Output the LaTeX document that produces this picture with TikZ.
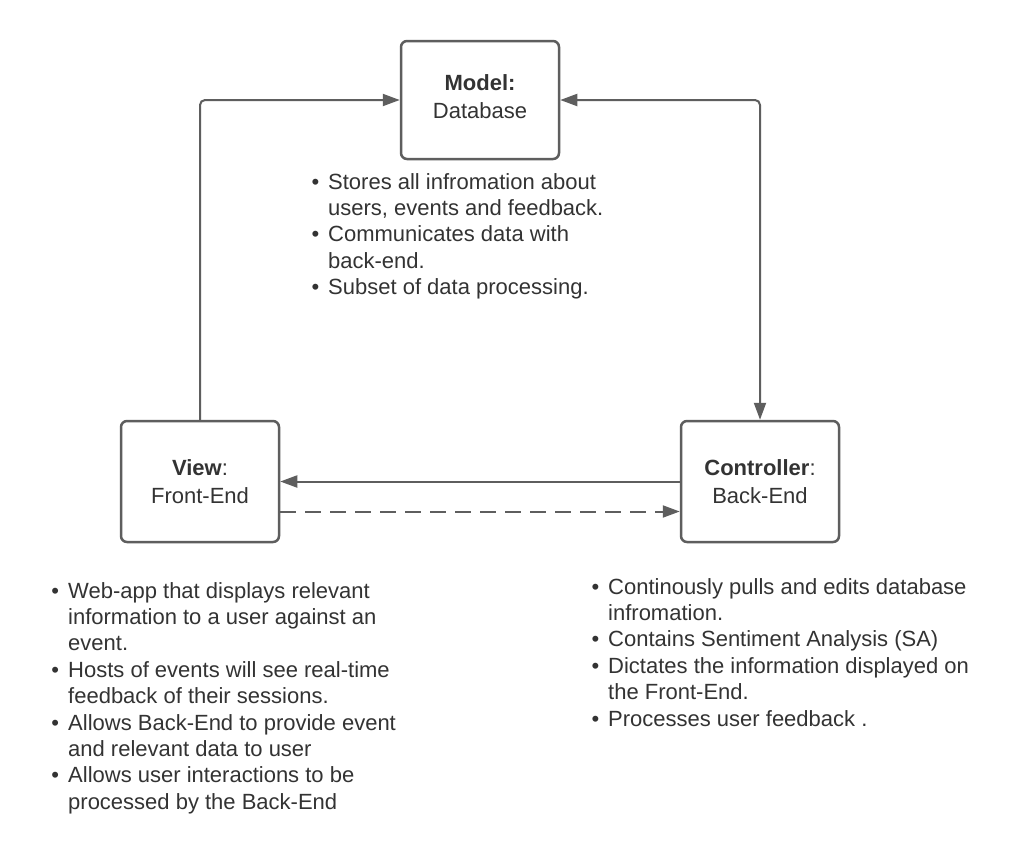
\documentclass[tikz,border=0pt]{standalone}
\usepackage{fontspec}
\setmainfont{Liberation Sans}
\usetikzlibrary{arrows.meta}
\definecolor{edgec}{HTML}{5E5E5E}
\definecolor{inkc}{HTML}{333333}
\newcommand{\bul}{\llap{\textbullet\hspace{9pt}}}
\begin{document}
\begin{tikzpicture}[x=1pt,y=-1pt,
  box/.style={draw=edgec, line width=2.5pt, rounded corners=6pt, minimum width=158pt,
    inner sep=0pt, align=center, text=inkc, font=\fontsize{22}{28}\selectfont},
  conn/.style={draw=edgec, line width=2pt, rounded corners=5pt},
  listtext/.style={text=inkc, align=left, inner sep=0pt, anchor=base west,
    font=\fontsize{22}{26.4}\selectfont},
  tipc/.tip={Triangle[length=17pt,width=12pt]}]
\useasboundingbox[fill=white] (0,0) rectangle (1020,860);

\node[box, minimum height=118pt] (model) at (480,100) {\textbf{Model:}\\Database\\[-22pt]};
\node[box, minimum height=121pt] (view) at (200,481.5) {\textbf{View}:\\Front-End};
\node[box, minimum height=121pt] (ctrl) at (760,481.5) {\textbf{Controller}:\\Back-End};

\draw[conn, -tipc] (view.north) |- (model.west);
\draw[conn, tipc-tipc] (model.east) -| (ctrl.north);
\draw[conn, -tipc] (ctrl.west) -- (view.east);
\draw[conn, -tipc, dash pattern=on 16pt off 9pt] ([yshift=-30pt]view.east) -- ([yshift=-30pt]ctrl.west);

% base anchor = baseline of the last line
\node[listtext] (mlist) at (328,294.6) {\bul Stores all infromation about\\users, events and feedback.\\\bul Communicates data with\\back-end.\\\bul Subset of data processing.};

\node[listtext] (vlist) at (68,809.2) {\bul Web-app that displays relevant\\information to a user against an\\event.\\\bul Hosts of events will see real-time\\feedback of their sessions.\\\bul Allows Back-End to provide event\\and relevant data to user\\\bul Allows user interactions to be\\processed by the Back-End};

\node[listtext] (clist) at (608,726) {\bul Continously pulls and edits database\\infromation.\\\bul Contains Sentiment Analysis (SA)\\\bul Dictates the information displayed on\\the Front-End.\\\bul Processes user feedback .};
\end{tikzpicture}
\end{document}
